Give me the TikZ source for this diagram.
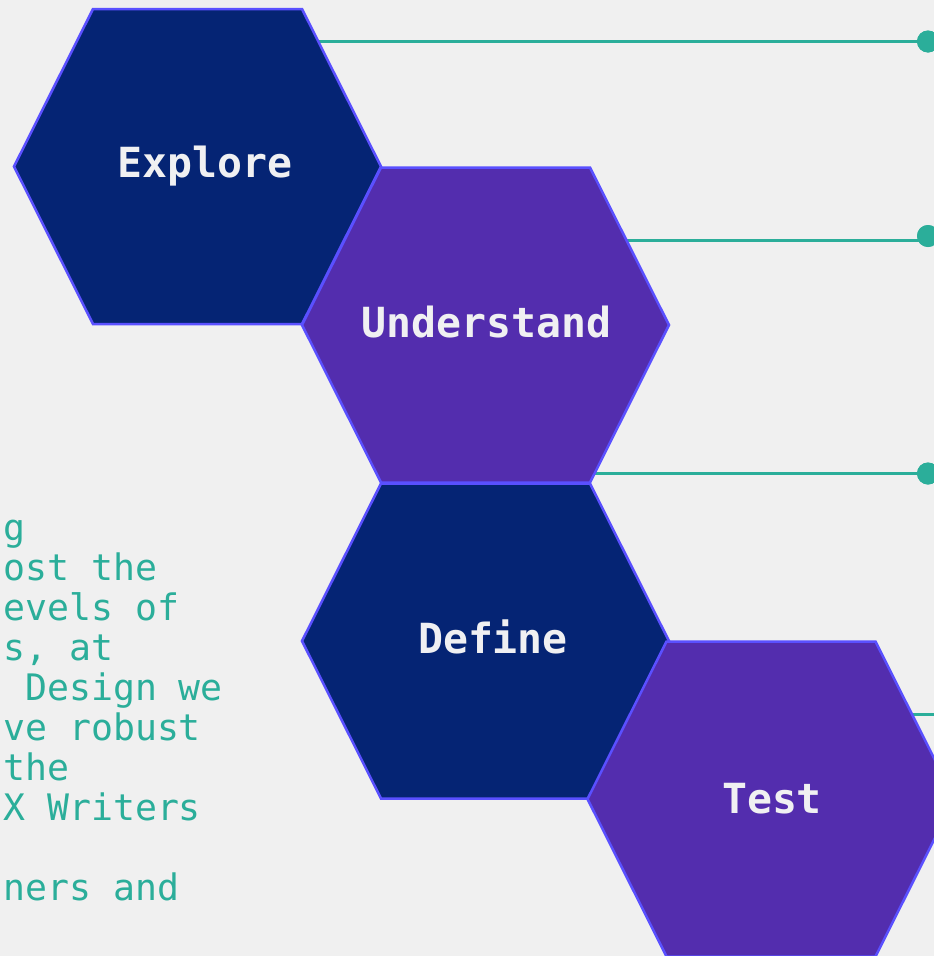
\documentclass[tikz,border=0pt]{standalone}
\usepackage{fontspec}
\setmonofont{DejaVu Sans Mono}
\definecolor{pagebg}{HTML}{F0F0F0}
\definecolor{hexnavy}{HTML}{052474}
\definecolor{hexviolet}{HTML}{532DAE}
\definecolor{hexrim}{HTML}{5A50FF}
\definecolor{leadcol}{HTML}{2BAE9A}
\definecolor{labelcol}{HTML}{F0F0F2}

\begin{document}
\begin{tikzpicture}[x=1pt,y=-1pt,
  hexedge/.style={draw=hexrim, line width=2.5pt, line join=miter},
  hexlabel/.style={text=labelcol, font=\ttfamily\bfseries\fontsize{41.5}{48}\selectfont,
                   inner sep=0pt, anchor=base},
  leader/.style={draw=leadcol, line width=3pt},
  dot/.style={circle, fill=leadcol, minimum size=22pt, inner sep=0pt},
  note/.style={text=leadcol, font=\ttfamily\fontsize{36.5}{40}\selectfont,
               align=left, inner sep=0pt, anchor=base west},
  pics/hexcell/.style={code={
    \draw[hexedge, fill=#1] (-183.5,0) -- (-104.5,-157.5) -- (104.5,-157.5)
      -- (183.5,0) -- (104.5,157.5) -- (-104.5,157.5) -- cycle;}}]

% canvas
\useasboundingbox (0,0) rectangle (934,956);
\fill[pagebg] (0,0) rectangle (934,956);
\clip (0,0) rectangle (934,956);

% hexagon centres
\coordinate (exploreC)    at (197.5,166.5);
\coordinate (understandC) at (485.5,325);
\coordinate (defineC)     at (485.5,641);
\coordinate (testC)       at (771,799);

% end dots of the leader lines
\node[dot] (dotA) at (928,41.5) {};
\node[dot] (dotB) at (928,236) {};
\node[dot] (dotC) at (928,473.5) {};
\coordinate (tipB) at (928,240);
\coordinate (tipD) at (945,714);

% leader lines, drawn behind the cells
\draw[leader] (exploreC |- dotA) -- (dotA.center);
\draw[leader] (understandC |- tipB) -- (tipB);
\draw[leader] (understandC |- dotC) -- (dotC.center);
\draw[leader] (testC |- tipD) -- (tipD);
\node[dot] at (dotA) {};
\node[dot] at (dotB) {};
\node[dot] at (dotC) {};

% cells
\pic at (exploreC)    {hexcell=hexnavy};
\pic at (understandC) {hexcell=hexviolet};
\pic at (defineC)     {hexcell=hexnavy};
\pic at (testC)       {hexcell=hexviolet};

% cell labels
\node[hexlabel] (explore)    at (205,177)   {Explore};
\node[hexlabel] (understand) at (486.5,337) {Understand};
\node[hexlabel] (define)     at (493,653)   {Define};
\node[hexlabel] (test)       at (772,813)   {Test};

% side text (the node's base is the baseline of its last line)
\node[note] (story) at (3,900) {g\\ost the\\evels of\\s, at\\\hphantom{D}Design we\\ve robust\\the\\X Writers\\\mbox{}\\ners and};
\end{tikzpicture}
\end{document}
